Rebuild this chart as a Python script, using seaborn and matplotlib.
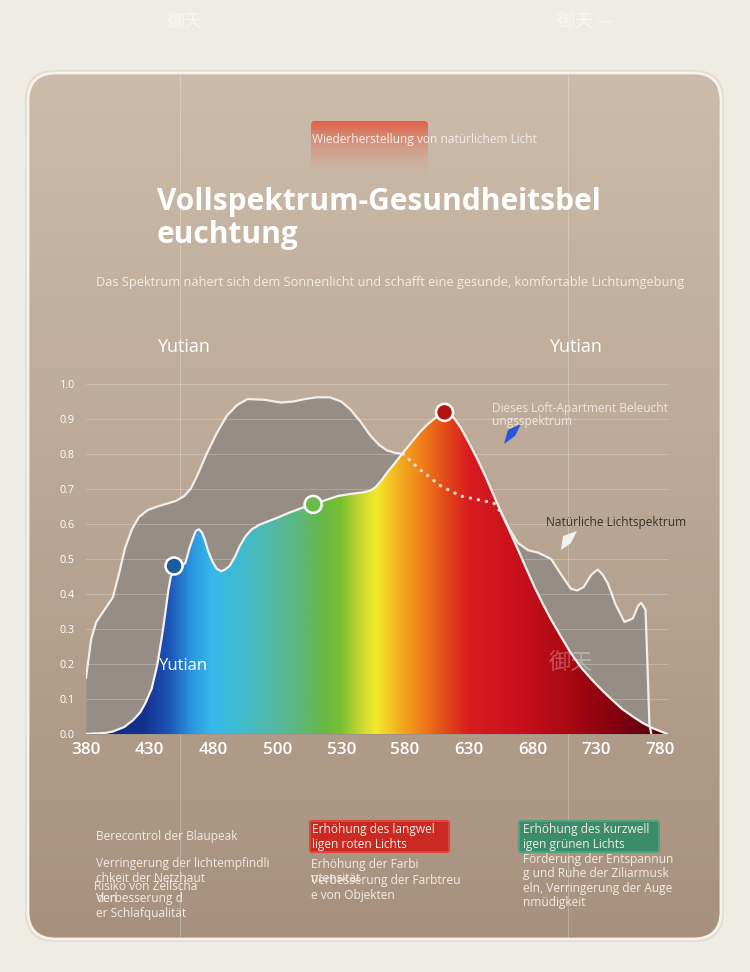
import numpy as np
import pandas as pd
import seaborn as sns
import matplotlib.pyplot as plt
from matplotlib.patches import FancyBboxPatch, Polygon
from matplotlib.colors import LinearSegmentedColormap

# tick labels of the spectrum chart (evenly spaced on the picture)
tick_labels = ["380", "430", "480", "500", "530", "580", "630", "680", "730", "780"]
y_ticks = [0.0, 0.1, 0.2, 0.3, 0.4, 0.5, 0.6, 0.7, 0.8, 0.9, 1.0]

# natural light spectrum (x in tick positions)
natural_x = [0.0, 0.08, 0.16, 0.29, 0.42, 0.52, 0.61, 0.72, 0.83, 0.97, 1.12, 1.41, 1.54, 1.64,
             1.76, 1.89, 2.05, 2.21, 2.37, 2.53, 2.8, 3.05, 3.25, 3.43, 3.62, 3.82, 4.0, 4.14,
             4.3, 4.46, 4.6, 4.72, 4.85, 4.97,
             5.23, 5.55, 5.87, 6.13, 6.39, 6.51,
             6.64, 6.77, 6.93, 7.09, 7.29, 7.45, 7.6, 7.7, 7.8, 7.92, 8.02, 8.1, 8.18, 8.3,
             8.44, 8.57, 8.65, 8.7, 8.77, 8.8, 8.83, 8.86]
natural_y = [0.16, 0.27, 0.32, 0.355, 0.39, 0.46, 0.53, 0.585, 0.62, 0.64, 0.65, 0.666, 0.68, 0.70,
             0.745, 0.80, 0.86, 0.91, 0.94, 0.957, 0.955, 0.947, 0.95, 0.957, 0.962, 0.962,
             0.95, 0.928, 0.893, 0.852, 0.825, 0.81, 0.803, 0.80,
             0.756, 0.71, 0.68, 0.67, 0.66, 0.632,
             0.585, 0.546, 0.525, 0.518, 0.50, 0.455, 0.415, 0.41, 0.42, 0.455, 0.47, 0.455,
             0.43, 0.37, 0.32, 0.33, 0.365, 0.375, 0.355, 0.2, 0.03, 0.0]
dotted_from, dotted_to = 33, 39

# LED spectrum of the apartment lighting
led_x = [0.0, 0.3, 0.42, 0.6, 0.74, 0.85, 0.93, 1.03, 1.12, 1.2, 1.25, 1.29, 1.33, 1.41, 1.5,
         1.56, 1.62, 1.67, 1.72, 1.77, 1.82, 1.86, 1.92, 1.99, 2.05, 2.12, 2.18, 2.25, 2.33,
         2.41, 2.5, 2.6, 2.72, 2.86, 3.0, 3.18, 3.37, 3.56, 3.75, 3.95, 4.15, 4.33, 4.45, 4.53,
         4.62, 4.72, 4.85, 4.97, 5.1, 5.23, 5.36, 5.49, 5.56, 5.62, 5.7, 5.78, 5.88, 6.0, 6.13,
         6.26, 6.38, 6.51, 6.64, 6.77, 6.9, 7.03, 7.16, 7.29, 7.45, 7.6, 7.76, 7.93, 8.1, 8.25,
         8.4, 8.57, 8.73, 8.89, 9.0, 9.11]
led_y = [0.0, 0.003, 0.007, 0.02, 0.04, 0.062, 0.088, 0.13, 0.2, 0.29, 0.355, 0.41, 0.45, 0.475,
         0.478, 0.49, 0.53, 0.556, 0.58, 0.585, 0.575, 0.556, 0.52, 0.49, 0.472, 0.465, 0.47,
         0.48, 0.505, 0.537, 0.565, 0.585, 0.598, 0.608, 0.618, 0.632, 0.645, 0.656, 0.668,
         0.68, 0.686, 0.69, 0.695, 0.704, 0.722, 0.747, 0.776, 0.804, 0.833, 0.862, 0.886,
         0.905, 0.914, 0.919, 0.915, 0.9, 0.873, 0.833, 0.787, 0.737, 0.686, 0.632, 0.58,
         0.527, 0.473, 0.42, 0.372, 0.327, 0.277, 0.231, 0.19, 0.155, 0.123, 0.097, 0.072,
         0.05, 0.031, 0.016, 0.008, 0.0]

marker_x = [1.38, 3.56, 5.62]
marker_y = [0.48, 0.656, 0.919]
marker_names = ["blau", "gruen", "rot"]
marker_colors = ["#1b5c9e", "#6cbb4a", "#b51212"]

# spectrum colours along the x axis
spec_pos = [0.0, 0.9, 1.3, 1.6, 1.95, 2.4, 2.9, 3.3, 3.7, 4.0, 4.3, 4.55, 4.9, 5.3, 5.7, 6.0,
            6.8, 7.6, 8.4, 9.185]
spec_col = ["#0d2a7a", "#14318f", "#1c56b8", "#2a8fdc", "#36b8ec", "#40bcd0", "#52b8a8", "#5cb880",
            "#66b848", "#78c030", "#c8d830", "#f2ea2a", "#f2b020", "#ee7a18", "#e04418", "#d81c20",
            "#c8101c", "#a80812", "#800010", "#4a0008"]

sns.set_theme(style="white")
plt.rcParams['font.family'] = ['Open Sans', 'Noto Sans CJK SC', 'DejaVu Sans']

fig = plt.figure(figsize=(7.5, 9.72), dpi=100)
fig.patch.set_facecolor("#efebe5")

# background card
bg = fig.add_axes([0, 0, 1, 1], zorder=0)
bg.axis("off")
shadow = FancyBboxPatch((25, 70), 699, 872, boxstyle="round,pad=0,rounding_size=30",
                        fc="#e4dcd2", ec="none", zorder=1)
bg.add_patch(shadow)
card = FancyBboxPatch((28, 73), 693, 866, boxstyle="round,pad=0,rounding_size=28",
                      fc="none", ec="#f6f2ec", lw=2, zorder=3)
bg.add_patch(card)
top_c = np.array([205, 188, 171]) / 255
bot_c = np.array([167, 145, 126]) / 255
k = np.linspace(0, 1, 300)[:, None, None]
grad = top_c * (1 - k) + bot_c * k
im = bg.imshow(grad, extent=(28, 721, 939, 73), aspect="auto", zorder=2)
im.set_clip_path(card)

# red glow block behind the tag line
glow = np.zeros((100, 1, 4))
glow[..., 0] = 0.88
glow[..., 1] = np.linspace(0.33, 0.6, 100)[:, None]
glow[..., 2] = np.linspace(0.22, 0.5, 100)[:, None]
glow[..., 3] = np.linspace(0.9, 0.0, 100)[:, None] ** 1.2
glow_box = FancyBboxPatch((311, 121), 117, 56, boxstyle="round,pad=0,rounding_size=4",
                          fc="none", ec="none")
bg.add_patch(glow_box)
gl = bg.imshow(glow, extent=(311, 428, 177, 121), aspect="auto", zorder=4)
gl.set_clip_path(glow_box)

# faint layout lines
for xv in [180, 568]:
    bg.plot([xv, xv], [73, 939], color="white", lw=0.6, alpha=0.3, zorder=5)

bg.set_xlim(0, 750)
bg.set_ylim(972, 0)

# spectrum chart
xmax = 9.185
ax = fig.add_axes([86 / 750, 1 - 734 / 972, (672 - 86) / 750, 367.5 / 972], zorder=2)
ax.patch.set_alpha(0)

ax.fill_between(natural_x, natural_y, color="#958d86", lw=0, zorder=1)
for yv in y_ticks:
    ax.plot([0, 9.12], [yv, yv], color="white", lw=0.6, alpha=0.28, zorder=2)

cmap = LinearSegmentedColormap.from_list("spec", list(zip([p / xmax for p in spec_pos], spec_col)))
verts = list(zip(led_x, led_y)) + [(led_x[-1], 0), (led_x[0], 0)]
clip = Polygon(verts, closed=True, fc="none", ec="none")
ax.add_patch(clip)
gimg = ax.imshow(np.linspace(0, xmax, 800)[None, :], extent=(0, xmax, 0, 1.05), cmap=cmap,
                 aspect="auto", origin="lower", zorder=3)
gimg.set_clip_path(clip)

nat = pd.DataFrame({"x": natural_x, "y": natural_y})
sns.lineplot(data=nat.iloc[:dotted_from + 1], x="x", y="y", ax=ax, color="#f3eee8", lw=1.6,
             sort=False, zorder=4)
sns.lineplot(data=nat.iloc[dotted_from:dotted_to + 1], x="x", y="y", ax=ax, color="#fadcd2",
             lw=2.4, ls=(0, (0.05, 2.4)), dash_capstyle="round", sort=False, zorder=4)
sns.lineplot(data=nat.iloc[dotted_to:], x="x", y="y", ax=ax, color="#f3eee8", lw=1.6,
             sort=False, zorder=4)
sns.lineplot(x=led_x, y=led_y, ax=ax, color="#f6f1ec", lw=1.6, sort=False, zorder=5)
sns.scatterplot(x=marker_x, y=marker_y, hue=marker_names, palette=marker_colors, ax=ax, s=150,
                edgecolor="white", linewidth=1.8, legend=False, zorder=6)

ax.set_xlim(0, xmax)
ax.set_ylim(0, 1.05)
ax.set_xticks(range(len(tick_labels)))
ax.set_xticklabels(tick_labels)
ax.set_yticks(y_ticks)
ax.set_yticklabels([f"{v:.1f}" for v in y_ticks])
ax.tick_params(axis="x", length=0, pad=6, labelsize=12.3, labelcolor="white")
ax.tick_params(axis="y", length=0, pad=8, labelsize=7.8, labelcolor="white")
for lab in ax.get_xticklabels():
    lab.set_fontweight("semibold")
ax.set_xlabel("")
ax.set_ylabel("")
for s in ax.spines.values():
    s.set_visible(False)

# texts on top
ov = fig.add_axes([0, 0, 1, 1], zorder=5)
ov.set_xlim(0, 750)
ov.set_ylim(972, 0)
ov.axis("off")
ov.patch.set_alpha(0)

cjk = ["Noto Sans CJK SC", "DejaVu Sans"]
ov.text(185, 22, "御天", fontsize=13, color="white", alpha=0.6, ha="center", va="center",
        family=cjk)
ov.text(585, 22, "御天 —", fontsize=13, color="white", alpha=0.6, ha="center", va="center",
        family=cjk)

ov.text(424, 139, "Wiederherstellung von natürlichem Licht", fontsize=8.6, color="#f6ece6",
        ha="center", va="center")
ov.text(157, 202, "Vollspektrum-Gesundheitsbel", fontsize=21.5, weight="bold", color="white",
        va="center")
ov.text(157, 235, "euchtung", fontsize=21.5, weight="bold", color="white", va="center")
ov.text(390, 282, "Das Spektrum nähert sich dem Sonnenlicht und schafft eine gesunde, komfortable "
        "Lichtumgebung", fontsize=9.2, color="#f4ece4", ha="center", va="center")

ov.text(183, 347, "Yutian", fontsize=13, color="white", ha="center", va="center")
ov.text(575, 347, "Yutian", fontsize=13, color="white", ha="center", va="center")
ov.text(184, 666, "Yutian", fontsize=12, color="white", ha="center", va="center")
ov.text(571, 662, "御天", fontsize=16, color="white", alpha=0.3, ha="center", va="center",
        family=cjk)

ov.text(492, 415, "Dieses Loft-Apartment Beleucht\nungsspektrum", fontsize=8.6, color="#f0e6de",
        va="center", linespacing=0.95)
ov.add_patch(Polygon([(504, 444), (508, 430), (521, 424), (515, 436)], closed=True,
                     fc="#2557d8", ec="none"))
ov.text(546, 522, "Natürliche Lichtspektrum", fontsize=8.6, color="#3a302a", va="center")
ov.add_patch(Polygon([(561, 550), (563, 536), (577, 531), (571, 543)], closed=True,
                     fc="#f4f2f0", ec="none"))

# bottom notes
ov.add_patch(FancyBboxPatch((310, 821), 139, 31, boxstyle="round,pad=0,rounding_size=2",
                            fc="#c92a22", ec="#d9483a", lw=1.5))
ov.add_patch(FancyBboxPatch((519, 821), 140, 31, boxstyle="round,pad=0,rounding_size=2",
                            fc="#3b8c6a", ec="#52a07f", lw=1.5))
note = dict(fontsize=8.6, color="#f3ebe4", va="center")
ov.text(96, 836, "Berecontrol der Blaupeak", **note)
ov.text(96, 863, "Verringerung der lichtempfindli", **note)
ov.text(96, 878, "chkeit der Netzhaut", **note)
ov.text(94, 886, "Risiko von Zellscha", **note)
ov.text(96, 898, "den", **note)
ov.text(96, 898, "Verbesserung d", **note)
ov.text(96, 913, "er Schlafqualität", **note)

ov.text(312, 829, "Erhöhung des langwel", **note)
ov.text(312, 844, "ligen roten Lichts", **note)
ov.text(311, 864, "Erhöhung der Farbi", **note)
ov.text(311, 878, "ntensität", **note)
ov.text(311, 880, "Verbesserung der Farbtreu", **note)
ov.text(311, 895, "e von Objekten", **note)

ov.text(523, 829, "Erhöhung des kurzwell", **note)
ov.text(523, 844, "igen grünen Lichts", **note)
ov.text(523, 859, "Förderung der Entspannun", **note)
ov.text(523, 873, "g und Ruhe der Ziliarmusk", **note)
ov.text(523, 888, "eln, Verringerung der Auge", **note)
ov.text(523, 902, "nmüdigkeit", **note)

fig.savefig("out.png", dpi=100)
